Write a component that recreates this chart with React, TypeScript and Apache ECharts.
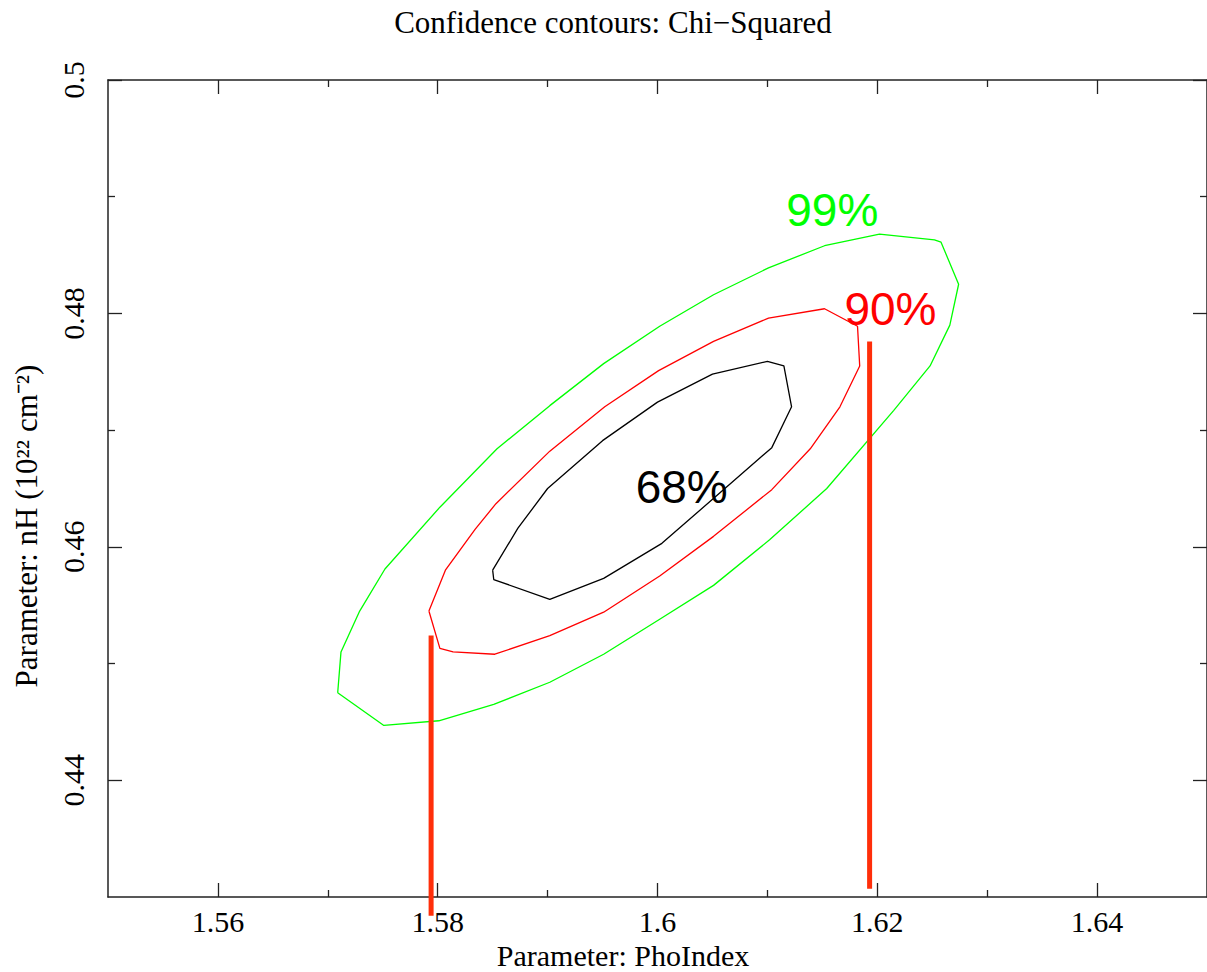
import React, { useEffect, useRef } from "react";
import * as echarts from "echarts";

const xMin = 1.55;
const xMax = 1.65;
const yMin = 0.43;
const yMax = 0.5;

const xMajorTicks = [1.56, 1.58, 1.6, 1.62, 1.64];
const xTickLabels = ["1.56", "1.58", "1.6", "1.62", "1.64"];
const xMinorTicks = [1.57, 1.59, 1.61, 1.63];
const yMajorTicks = [0.44, 0.46, 0.48, 0.5];
const yTickLabels = ["0.44", "0.46", "0.48", "0.5"];
const yMinorTicks = [0.45, 0.47, 0.49];

const contour68: number[][] = [
  [1.585, 0.458], [1.5873, 0.4616], [1.59, 0.465], [1.595, 0.4691], [1.6, 0.4724],
  [1.605, 0.4748], [1.61, 0.4759], [1.6115, 0.4755], [1.6122, 0.472], [1.6104, 0.4685],
  [1.6054, 0.4644], [1.6004, 0.4603], [1.5951, 0.4573], [1.5902, 0.4555], [1.5851, 0.4572],
  [1.585, 0.458],
];

const contour90: number[][] = [
  [1.5792, 0.4545], [1.5807, 0.458], [1.5834, 0.4615], [1.5853, 0.4637], [1.5902, 0.4682],
  [1.5952, 0.472], [1.6001, 0.4751], [1.6051, 0.4776], [1.6101, 0.4796], [1.6152, 0.4804],
  [1.6182, 0.4789], [1.6184, 0.4755], [1.6166, 0.472], [1.6139, 0.4684], [1.6104, 0.4649],
  [1.6051, 0.4609], [1.6002, 0.4575], [1.5951, 0.4544], [1.5902, 0.4524], [1.5852, 0.4508],
  [1.5814, 0.451], [1.5802, 0.4513], [1.5792, 0.4545],
];

const contour99: number[][] = [
  [1.5709, 0.4475], [1.5712, 0.451], [1.5729, 0.4545], [1.5752, 0.4581], [1.5802, 0.4634],
  [1.5854, 0.4684], [1.5902, 0.4721], [1.5951, 0.4757], [1.6002, 0.4789], [1.6051, 0.4816],
  [1.6101, 0.4839], [1.6152, 0.4858], [1.6202, 0.4868], [1.6252, 0.4863], [1.6258, 0.4861],
  [1.6274, 0.4825], [1.6266, 0.479], [1.6248, 0.4755], [1.6215, 0.4717], [1.6154, 0.465],
  [1.6102, 0.4606], [1.6051, 0.4567], [1.6002, 0.4538], [1.5951, 0.4508], [1.5902, 0.4484],
  [1.5851, 0.4465], [1.5801, 0.4451], [1.5751, 0.4447], [1.5709, 0.4475],
];

const errorBarLeft: number[][] = [[1.5794, 0.4524], [1.5794, 0.4284]];
const errorBarRight: number[][] = [[1.6193, 0.4776], [1.6193, 0.4307]];

const levelNames = ["99%", "90%", "68%"];
const levelColors = ["#00ff00", "#ff0000", "#000000"];
const levelLabelPos: number[][] = [[1.6159, 0.4889], [1.6212, 0.4804], [1.6022, 0.4651]];

const titleText = "Confidence contours: Chi\u2212Squared";
const xName = "Parameter: PhoIndex";
const yName = "Parameter: nH (10\u00b2\u00b2 cm\u207b\u00b2)";

const SERIF = "'Liberation Serif', 'Times New Roman', serif";
const SANS = "'Liberation Sans', Arial, Helvetica, sans-serif";
const AXIS_COLOR = "#222";

function fmt(values: number[], labels: string[]) {
  return (v: number) => {
    for (let i = 0; i < values.length; i++) {
      if (Math.abs(values[i] - v) < 1e-9) return labels[i];
    }
    return "";
  };
}

function xAxisDef(position: string, ticks: number[], len: number, labels: boolean, line: boolean) {
  return {
    type: "value",
    min: xMin,
    max: xMax,
    position,
    gridIndex: 0,
    axisLine: { show: line, onZero: false, lineStyle: { color: AXIS_COLOR, width: 1.5 } },
    axisTick: { show: true, inside: true, length: len, customValues: ticks, lineStyle: { color: AXIS_COLOR, width: 1.3 } },
    axisLabel: labels
      ? { show: true, customValues: ticks, formatter: fmt(xMajorTicks, xTickLabels), margin: 9, color: "#000", fontFamily: SERIF, fontSize: 30 }
      : { show: false },
    splitLine: { show: false },
  };
}

function yAxisDef(position: string, ticks: number[], len: number, labels: boolean, line: boolean) {
  return {
    type: "value",
    min: yMin,
    max: yMax,
    position,
    gridIndex: 0,
    axisLine: { show: line, onZero: false, lineStyle: { color: AXIS_COLOR, width: 1.5 } },
    axisTick: { show: true, inside: true, length: len, customValues: ticks, lineStyle: { color: AXIS_COLOR, width: 1.3 } },
    axisLabel: labels
      ? { show: true, customValues: ticks, formatter: fmt(yMajorTicks, yTickLabels), rotate: 90, margin: 20, color: "#000", fontFamily: SERIF, fontSize: 30 }
      : { show: false },
    splitLine: { show: false },
  };
}

export default function App() {
  const ref = useRef<HTMLDivElement>(null);
  useEffect(() => {
    if (!ref.current) return;
    const chart = echarts.init(ref.current, undefined, { renderer: "svg" });
    const contours = [contour99, contour90, contour68];
    const series: any[] = contours.map((c, i) => ({
      type: "line",
      name: levelNames[i],
      data: c,
      xAxisIndex: 0,
      yAxisIndex: 0,
      symbol: "none",
      smooth: false,
      silent: true,
      lineStyle: { color: levelColors[i], width: 1.3 },
      z: 2,
    }));
    [errorBarLeft, errorBarRight].forEach((b) => {
      series.push({
        type: "line",
        data: b,
        xAxisIndex: 0,
        yAxisIndex: 0,
        symbol: "none",
        clip: false,
        silent: true,
        lineStyle: { color: "#ff2e0a", width: 5, cap: "butt" },
        z: 3,
      });
    });
    series.push({
      type: "scatter",
      xAxisIndex: 0,
      yAxisIndex: 0,
      symbolSize: 1,
      silent: true,
      itemStyle: { color: "transparent", opacity: 1 },
      data: levelLabelPos.map((p, i) => ({
        value: p,
        name: levelNames[i],
        label: { color: levelColors[i] },
      })),
      label: {
        show: true,
        position: "inside",
        formatter: (p: any) => p.name,
        fontFamily: SANS,
        fontSize: 46,
        align: "center",
        verticalAlign: "middle",
        opacity: 1,
        textBorderWidth: 0,
        textBorderColor: "transparent",
      },
      z: 5,
    });

    chart.setOption({
      animation: false,
      backgroundColor: "#ffffff",
      grid: { left: 108, top: 80, width: 1100, height: 817, containLabel: false },
      xAxis: [
        xAxisDef("bottom", xMajorTicks, 14, true, true),
        xAxisDef("bottom", xMinorTicks, 7, false, false),
        xAxisDef("top", xMajorTicks, 14, false, true),
        xAxisDef("top", xMinorTicks, 7, false, false),
      ],
      yAxis: [
        yAxisDef("left", yMajorTicks, 14, true, true),
        yAxisDef("left", yMinorTicks, 7, false, false),
        yAxisDef("right", yMajorTicks, 14, false, true),
        yAxisDef("right", yMinorTicks, 7, false, false),
      ],
      graphic: [
        {
          type: "text",
          x: 613,
          y: 22,
          silent: true,
          style: { text: titleText, fill: "#000", font: `31px ${SERIF}`, align: "center", verticalAlign: "middle" },
        },
        {
          type: "text",
          x: 623,
          y: 955,
          silent: true,
          style: { text: xName, fill: "#000", font: `30px ${SERIF}`, align: "center", verticalAlign: "middle" },
        },
        {
          type: "text",
          x: 26,
          y: 526,
          rotation: Math.PI / 2,
          silent: true,
          style: { text: yName, fill: "#000", font: `31px ${SERIF}`, align: "center", verticalAlign: "middle" },
        },
      ],
      series,
    });
    return () => chart.dispose();
  }, []);
  return (
    <div
      ref={ref}
      style={{ position: "absolute", left: 0, top: 0, width: 1207, height: 972, background: "#fff" }}
    />
  );
}
